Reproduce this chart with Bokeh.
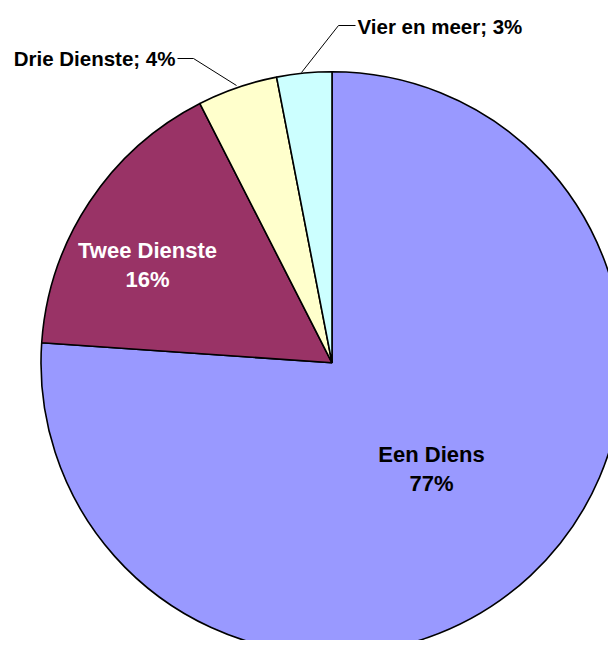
import numpy as np
from bokeh.plotting import figure
from bokeh.models import Range1d, ColumnDataSource
from bokeh.core.properties import value
from bokeh.embed import file_html
from bokeh.resources import INLINE

# ---- data ----
categories = ["Een Diens", "Twee Dienste", "Drie Dienste", "Vier en meer"]
shares = [76.1, 16.4, 4.45, 3.05]
pct_labels = ["77%", "16%", "4%", "3%"]
colors = ["#9999FF", "#993366", "#FFFFCC", "#CCFFFF"]

W, H = 608, 640
p = figure(width=W, height=H, output_backend="svg", toolbar_location=None,
           x_range=Range1d(0, W), y_range=Range1d(0, H), min_border=0)
p.axis.visible = False
p.grid.visible = False
p.outline_line_color = None
p.background_fill_color = "white"

def Y(py):
    return H - py
def X(px):
    return px

cx, cy, r = X(331.5), Y(362.3), 291

vals = np.array(shares, dtype=float)
frac = vals / vals.sum()
cum = np.concatenate([[0], np.cumsum(frac)])
start = np.pi / 2 - cum[:-1] * 2 * np.pi
end = np.pi / 2 - cum[1:] * 2 * np.pi

src = ColumnDataSource(dict(cat=categories, start=start, end=end, color=colors))
p.wedge(x=cx, y=cy, radius=r, start_angle="start", end_angle="end",
        direction="clock", fill_color="color", line_color="black",
        line_width=1.6, source=src)

font = value("Liberation Sans")
fs_in = "22px"
fs_out = "20.5px"

# inside labels
p.text(x=[X(431), X(431)], y=[Y(454), Y(483)], text=[categories[0], pct_labels[0]],
       text_font=font, text_font_size=fs_in, text_font_style="bold",
       text_color="black", text_align="center", text_baseline="middle")
p.text(x=[X(147), X(147)], y=[Y(250), Y(279)], text=[categories[1], pct_labels[1]],
       text_font=font, text_font_size=fs_in, text_font_style="bold",
       text_color="white", text_align="center", text_baseline="middle")

# outside labels with leader lines
p.line(x=[X(177), X(193), X(236)], y=[Y(58), Y(58), Y(85)], line_color="black", line_width=1)
p.line(x=[X(355), X(338), X(301)], y=[Y(25), Y(25), Y(72)], line_color="black", line_width=1)

p.text(x=[X(175)], y=[Y(58)], text=[f"{categories[2]}; {pct_labels[2]}"],
       text_font=font, text_font_size=fs_out, text_font_style="bold",
       text_color="black", text_align="right", text_baseline="middle")
p.text(x=[X(357)], y=[Y(26)], text=[f"{categories[3]}; {pct_labels[3]}"],
       text_font=font, text_font_size=fs_out, text_font_style="bold",
       text_color="black", text_align="left", text_baseline="middle")

open("out.html", "w").write(file_html(p, INLINE))
